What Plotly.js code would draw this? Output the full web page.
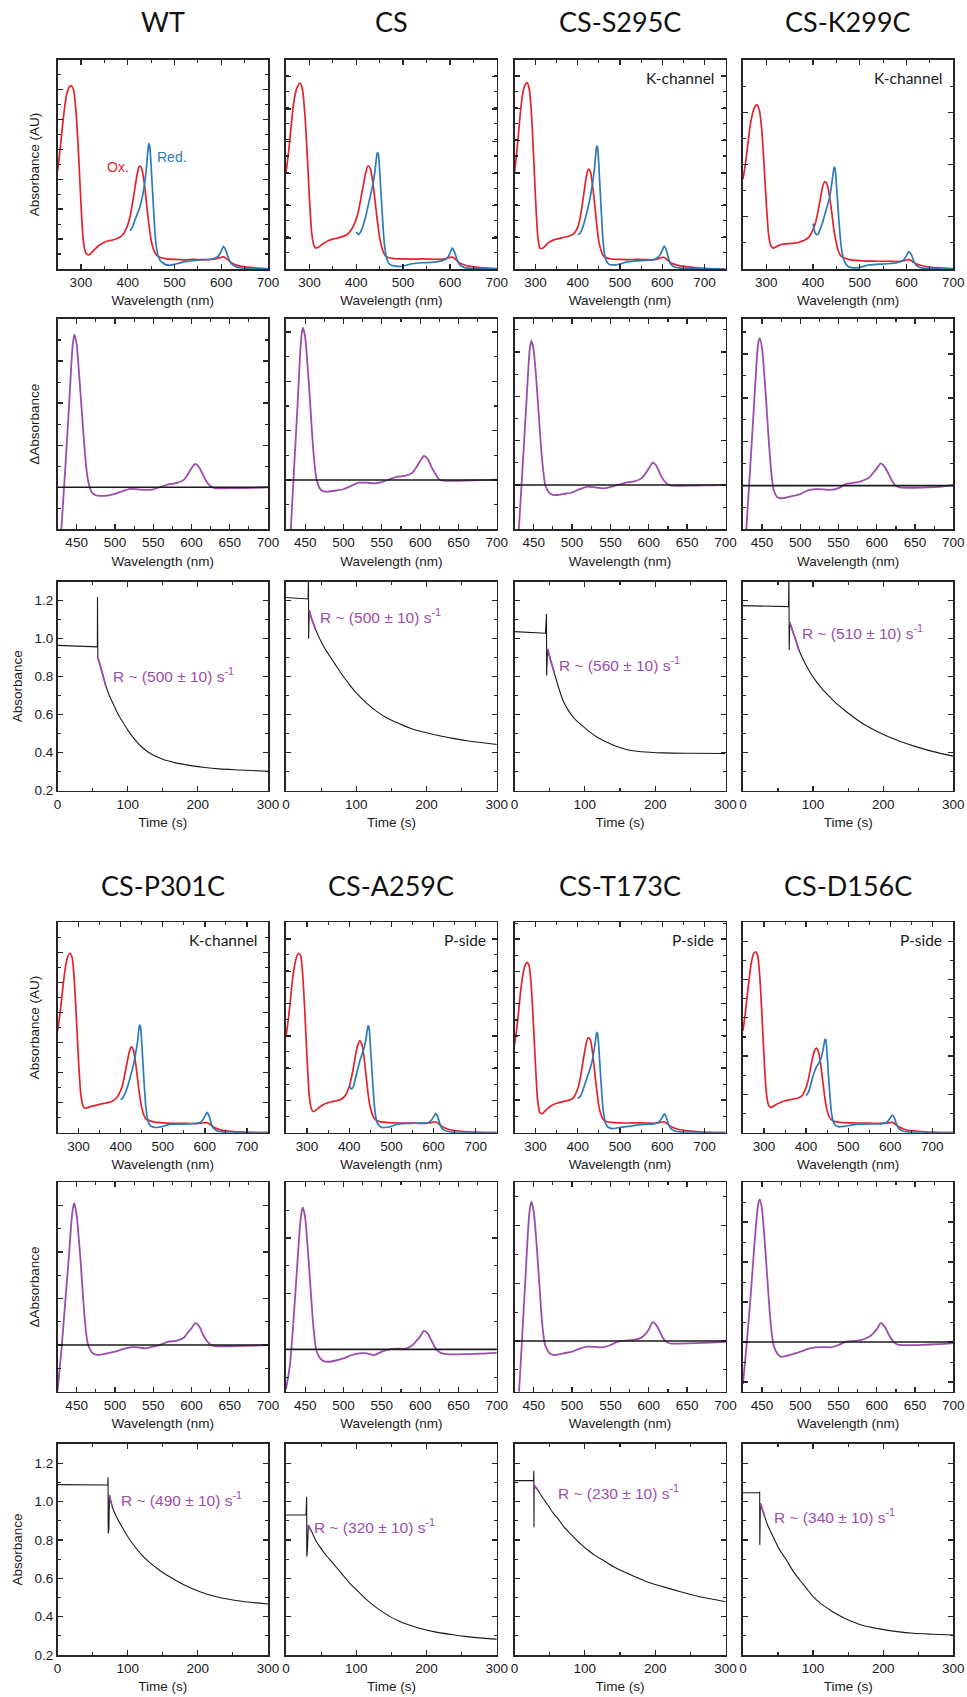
<!DOCTYPE html>
<html><head><meta charset="utf-8">
<script src="https://cdn.plot.ly/plotly-3.0.1.min.js"></script>
<style>body{margin:0;background:#fff}</style>
</head><body><div id="chart" style="width:967px;height:1697px"></div>
<script>
// ---------------- DATA ----------------
const sampleNames = ['WT','CS','CS-S295C','CS-K299C','CS-P301C','CS-A259C','CS-T173C','CS-D156C'];
const rates = [500,500,560,510,490,320,230,340];
const regions = ['','','K-channel','K-channel','K-channel','P-side','P-side','P-side'];

// Absorbance spectra (relative units, oxidised = red, reduced = blue)
const oxNm = [250,255,260,265,270,275,280,285,290,295,300,305,310,315,320,330,340,350,360,370,380,390,400,405,410,415,420,425,430,435,440,445,450,455,460,465,470,480,500,520,540,560,580,590,600,605,610,615,620,630,640,660,680,700,720,750];
const ox_WT = [0.467,0.56,0.67,0.77,0.84,0.87,0.877,0.85,0.74,0.55,0.32,0.14,0.08,0.068,0.072,0.095,0.115,0.128,0.135,0.14,0.148,0.165,0.21,0.25,0.31,0.38,0.45,0.492,0.48,0.42,0.32,0.22,0.14,0.095,0.072,0.06,0.055,0.05,0.046,0.044,0.046,0.045,0.046,0.05,0.056,0.058,0.052,0.042,0.032,0.02,0.014,0.008,0.004,0.001,0,0];
const ox_CS = [0.462,0.55,0.66,0.77,0.84,0.875,0.889,0.86,0.75,0.56,0.34,0.17,0.11,0.10,0.105,0.122,0.135,0.143,0.148,0.155,0.164,0.19,0.24,0.28,0.34,0.40,0.46,0.494,0.48,0.42,0.33,0.23,0.15,0.10,0.07,0.058,0.054,0.05,0.048,0.047,0.048,0.047,0.046,0.05,0.056,0.057,0.05,0.04,0.03,0.02,0.014,0.008,0.004,0.002,0,0];
const ox_S295C = [0.462,0.55,0.66,0.77,0.845,0.88,0.892,0.86,0.75,0.55,0.33,0.16,0.10,0.098,0.105,0.125,0.137,0.143,0.148,0.153,0.158,0.168,0.2,0.24,0.3,0.37,0.44,0.478,0.465,0.4,0.31,0.21,0.13,0.09,0.065,0.056,0.052,0.048,0.046,0.045,0.046,0.045,0.044,0.048,0.056,0.055,0.048,0.038,0.03,0.022,0.016,0.01,0.006,0.003,0.001,0];
const ox_K299C = [0.43,0.5,0.59,0.68,0.74,0.775,0.785,0.76,0.67,0.5,0.31,0.16,0.11,0.10,0.105,0.116,0.12,0.122,0.124,0.128,0.136,0.15,0.19,0.22,0.27,0.33,0.39,0.418,0.405,0.35,0.27,0.18,0.12,0.08,0.062,0.055,0.05,0.044,0.04,0.038,0.037,0.037,0.036,0.038,0.043,0.045,0.04,0.032,0.025,0.018,0.012,0.007,0.004,0.002,0,0];
const ox_P301C = [0.48,0.55,0.64,0.73,0.8,0.84,0.853,0.83,0.72,0.54,0.34,0.19,0.13,0.116,0.118,0.125,0.13,0.135,0.139,0.143,0.15,0.165,0.2,0.23,0.28,0.33,0.38,0.408,0.395,0.34,0.26,0.18,0.12,0.085,0.066,0.06,0.056,0.05,0.047,0.045,0.045,0.044,0.043,0.045,0.048,0.048,0.043,0.035,0.027,0.018,0.012,0.007,0.004,0.002,0.001,0];
const ox_A259C = [0.456,0.53,0.62,0.72,0.79,0.835,0.853,0.84,0.74,0.56,0.35,0.18,0.115,0.10,0.105,0.122,0.135,0.143,0.148,0.152,0.158,0.175,0.22,0.26,0.31,0.37,0.415,0.436,0.42,0.36,0.27,0.18,0.12,0.085,0.066,0.058,0.054,0.05,0.047,0.046,0.046,0.045,0.044,0.046,0.05,0.052,0.046,0.038,0.03,0.02,0.014,0.008,0.004,0.002,0.001,0];
const ox_T173C = [0.417,0.49,0.58,0.68,0.75,0.795,0.81,0.79,0.69,0.51,0.31,0.15,0.095,0.09,0.098,0.118,0.132,0.14,0.145,0.15,0.155,0.167,0.21,0.25,0.31,0.37,0.425,0.452,0.44,0.38,0.29,0.2,0.125,0.085,0.063,0.055,0.052,0.049,0.047,0.046,0.047,0.046,0.045,0.047,0.051,0.052,0.046,0.038,0.03,0.021,0.015,0.009,0.005,0.002,0.001,0];
const ox_D156C = [0.485,0.56,0.65,0.74,0.81,0.85,0.86,0.84,0.74,0.56,0.36,0.2,0.135,0.12,0.123,0.135,0.145,0.152,0.156,0.16,0.164,0.175,0.215,0.25,0.3,0.35,0.39,0.402,0.38,0.32,0.24,0.16,0.105,0.075,0.062,0.056,0.053,0.049,0.047,0.046,0.046,0.045,0.044,0.045,0.048,0.049,0.044,0.036,0.028,0.019,0.013,0.008,0.004,0.002,0.001,0];

const redNm = [400,405,410,415,420,425,430,435,440,443,445,447,450,455,460,465,470,475,480,490,500,510,520,540,560,580,590,595,600,605,610,615,620,630,640,660,700,750];
const red_WT = [null,0.183,0.2,0.23,0.26,0.29,0.33,0.39,0.48,0.56,0.6,0.59,0.5,0.3,0.13,0.065,0.04,0.03,0.022,0.018,0.022,0.028,0.034,0.04,0.044,0.048,0.055,0.065,0.085,0.108,0.088,0.055,0.03,0.012,0.006,0.003,0.001,0];
const red_CS = [0.177,0.165,0.18,0.21,0.25,0.3,0.35,0.4,0.47,0.53,0.557,0.55,0.47,0.28,0.12,0.05,0.025,0.018,0.015,0.013,0.014,0.02,0.025,0.03,0.032,0.038,0.045,0.055,0.075,0.1,0.08,0.045,0.022,0.008,0.004,0.002,0.001,0];
const red_S295C = [0.164,0.17,0.19,0.22,0.26,0.3,0.35,0.41,0.49,0.56,0.589,0.58,0.49,0.3,0.13,0.055,0.03,0.022,0.02,0.02,0.024,0.03,0.035,0.039,0.041,0.045,0.055,0.068,0.088,0.11,0.09,0.05,0.024,0.01,0.005,0.002,0.001,0];
const red_K299C = [0.217,0.17,0.165,0.19,0.22,0.26,0.3,0.34,0.41,0.46,0.487,0.48,0.4,0.24,0.11,0.05,0.025,0.012,0.008,0.005,0.008,0.014,0.02,0.023,0.025,0.03,0.038,0.048,0.065,0.083,0.07,0.04,0.02,0.006,0.003,0.001,0,0];
const red_P301C = [0.158,0.165,0.185,0.21,0.245,0.28,0.32,0.37,0.43,0.49,0.512,0.505,0.43,0.26,0.12,0.055,0.035,0.028,0.025,0.026,0.03,0.036,0.04,0.041,0.042,0.045,0.05,0.06,0.078,0.097,0.08,0.045,0.022,0.008,0.004,0.002,0.001,0];
const red_A259C = [0.227,0.207,0.22,0.26,0.3,0.34,0.37,0.4,0.45,0.49,0.509,0.5,0.42,0.26,0.12,0.055,0.035,0.027,0.024,0.026,0.03,0.038,0.042,0.044,0.046,0.046,0.05,0.06,0.075,0.092,0.075,0.042,0.02,0.008,0.004,0.002,0.001,0];
const red_T173C = [0.163,0.17,0.19,0.22,0.25,0.28,0.31,0.35,0.41,0.455,0.477,0.47,0.4,0.24,0.11,0.05,0.03,0.023,0.02,0.021,0.025,0.028,0.03,0.036,0.04,0.042,0.048,0.058,0.072,0.089,0.072,0.04,0.02,0.008,0.004,0.002,0.001,0];
const red_D156C = [0.176,0.19,0.22,0.26,0.29,0.315,0.33,0.35,0.39,0.425,0.444,0.44,0.37,0.22,0.1,0.05,0.035,0.03,0.028,0.03,0.033,0.037,0.04,0.041,0.042,0.043,0.048,0.056,0.07,0.084,0.07,0.04,0.02,0.008,0.004,0.002,0.001,0];

// Difference spectra (reduced - oxidised)
const dNm = [425,430,435,440,443,445,447,450,453,455,458,460,463,465,470,475,480,490,500,510,520,530,540,550,560,570,580,590,595,600,605,610,615,620,625,630,640,660,680,700];
const d_WT = [-0.5,-0.2,0.08,0.38,0.58,0.68,0.727,0.68,0.55,0.45,0.3,0.2,0.08,0.03,-0.025,-0.038,-0.041,-0.04,-0.032,-0.018,-0.008,-0.01,-0.013,-0.01,0.002,0.014,0.019,0.035,0.06,0.09,0.111,0.095,0.06,0.025,0.005,-0.004,-0.005,-0.004,-0.003,0];
const d_CS = [-0.6,-0.32,0.02,0.35,0.57,0.68,0.724,0.68,0.55,0.45,0.28,0.17,0.05,0.0,-0.045,-0.055,-0.055,-0.05,-0.044,-0.028,-0.013,-0.013,-0.016,-0.01,0.003,0.016,0.019,0.035,0.06,0.09,0.114,0.1,0.06,0.028,0.002,-0.003,-0.004,-0.003,-0.001,0.001];
const d_S295C = [-0.55,-0.25,0.05,0.36,0.55,0.65,0.686,0.64,0.52,0.42,0.26,0.16,0.05,0.0,-0.035,-0.047,-0.048,-0.042,-0.036,-0.02,-0.008,-0.012,-0.016,-0.01,0.0,0.011,0.016,0.03,0.05,0.078,0.106,0.09,0.05,0.02,0.002,-0.003,-0.004,-0.003,-0.002,0];
const d_K299C = [-0.45,-0.17,0.12,0.42,0.6,0.68,0.7,0.65,0.52,0.42,0.25,0.15,0.03,-0.02,-0.055,-0.06,-0.058,-0.049,-0.04,-0.022,-0.017,-0.018,-0.02,-0.012,0.008,0.014,0.022,0.038,0.06,0.082,0.106,0.09,0.058,0.022,-0.002,-0.008,-0.01,-0.009,-0.006,0.003];
const d_P301C = [-0.22,-0.03,0.2,0.43,0.58,0.65,0.677,0.62,0.5,0.41,0.25,0.15,0.04,0.0,-0.035,-0.046,-0.047,-0.04,-0.032,-0.02,-0.011,-0.011,-0.016,-0.008,0.002,0.016,0.02,0.035,0.058,0.08,0.104,0.09,0.05,0.02,0.001,-0.005,-0.006,-0.005,-0.003,-0.001];
const d_A259C = [-0.19,-0.08,0.15,0.42,0.58,0.65,0.678,0.63,0.5,0.4,0.24,0.14,0.03,-0.01,-0.045,-0.057,-0.059,-0.053,-0.043,-0.028,-0.019,-0.019,-0.027,-0.011,0.0,0.004,0.003,0.02,0.04,0.062,0.088,0.075,0.04,0.005,-0.012,-0.02,-0.024,-0.023,-0.02,-0.015];
const d_T173C = [-0.55,-0.3,0.02,0.35,0.55,0.63,0.666,0.62,0.5,0.4,0.24,0.13,0.02,-0.02,-0.055,-0.066,-0.066,-0.058,-0.051,-0.036,-0.027,-0.028,-0.03,-0.019,-0.003,0.002,0.005,0.015,0.03,0.055,0.09,0.075,0.04,0.006,-0.008,-0.012,-0.012,-0.01,-0.007,-0.004];
const d_D156C = [-0.2,0.0,0.22,0.47,0.6,0.66,0.681,0.63,0.5,0.4,0.24,0.14,0.03,-0.015,-0.055,-0.07,-0.068,-0.058,-0.046,-0.033,-0.025,-0.024,-0.025,-0.014,0.002,0.005,0.01,0.025,0.04,0.062,0.09,0.075,0.04,0.01,-0.008,-0.014,-0.015,-0.013,-0.01,-0.005];

// Kinetic traces (time in s, absorbance)
const kT_WT = [0,56.8,57,57.2,57.5,60,63,66,69,74,79,84,89,95,100,110,120,135,150,170,190,210,230,260,300];
const kA_WT = [0.965,0.957,1.22,0.93,0.90,0.87,0.83,0.79,0.75,0.70,0.66,0.62,0.585,0.55,0.52,0.47,0.43,0.39,0.365,0.345,0.332,0.322,0.315,0.309,0.302];
const kT_CS = [0,31.5,32,32.2,33,36,39,42,48,55,62,70,80,90,100,115,130,145,160,180,200,220,240,260,280,300];
const kA_CS = [1.217,1.209,1.35,1.0,1.15,1.11,1.08,1.05,1.0,0.95,0.91,0.865,0.81,0.76,0.715,0.66,0.615,0.58,0.555,0.525,0.505,0.488,0.474,0.462,0.452,0.443];
const kT_S295C = [0,44,45.5,45.7,47,50,53,57,62,69,77,85,93,105,117,130,140,152,164,180,211,250,300];
const kA_S295C = [1.037,1.029,1.13,0.807,0.946,0.905,0.865,0.815,0.752,0.675,0.62,0.58,0.553,0.515,0.483,0.458,0.44,0.425,0.413,0.405,0.399,0.397,0.396];
const kT_K299C = [0,65,65.5,65.9,66.7,70,75,80,90,100,112,124,136,148,170,195,220,243,270,300];
const kA_K299C = [1.174,1.169,1.35,0.94,1.086,1.05,0.995,0.938,0.86,0.798,0.74,0.693,0.65,0.614,0.555,0.505,0.465,0.436,0.407,0.382];
const kT_P301C = [0,71.6,72,72.3,73,73.3,74,76,78,84,90,100,108,120,132,145,155,180,203,225,250,275,300];
const kA_P301C = [1.088,1.086,1.126,0.834,1.11,0.86,1.034,1.0,0.973,0.921,0.88,0.818,0.776,0.722,0.68,0.643,0.618,0.566,0.53,0.505,0.487,0.475,0.466];
const kT_A259C = [0,28.5,29.4,29.6,30.2,30.5,31.8,34,36.5,42,48,57,67,79,91,103,115,135,162,185,210,235,257,280,300];
const kA_A259C = [0.93,0.93,1.025,0.713,1.0,0.75,0.878,0.86,0.843,0.8,0.765,0.72,0.678,0.625,0.574,0.53,0.487,0.43,0.374,0.345,0.322,0.307,0.296,0.288,0.283];
const kT_T173C = [0,27,27.5,27.7,28,33,40,46,55,62,70,80,93,105,117,130,141,165,188,212,236,265,300];
const kA_T173C = [1.109,1.109,1.161,0.866,1.086,1.06,1.02,0.99,0.94,0.91,0.869,0.83,0.782,0.745,0.713,0.685,0.66,0.618,0.582,0.555,0.53,0.502,0.478];
const kT_D156C = [0,23.6,23.8,24,24.8,28,31,36,43,52,62,71,81,90,100,112,124,136,148,170,195,220,243,270,300];
const kA_D156C = [1.046,1.046,1.051,0.773,0.99,0.955,0.92,0.87,0.817,0.75,0.695,0.64,0.591,0.55,0.504,0.465,0.435,0.408,0.386,0.355,0.336,0.322,0.313,0.308,0.304];

// Initial-rate fit segments
const fitT_WT = [57.5,60,63,66,69],        fitA_WT = [0.90,0.87,0.83,0.79,0.75];
const fitT_CS = [33,36,39,42],             fitA_CS = [1.15,1.11,1.08,1.05];
const fitT_S295C = [47,50,53,57],          fitA_S295C = [0.946,0.905,0.865,0.815];
const fitT_K299C = [66.7,70,75,80],        fitA_K299C = [1.086,1.05,0.995,0.938];
const fitT_P301C = [74,76,78],             fitA_P301C = [1.034,1.0,0.973];
const fitT_A259C = [31.8,34,36.5],         fitA_A259C = [0.878,0.86,0.843];
const fitT_T173C = [28,30,33],             fitA_T173C = [1.086,1.074,1.06];
const fitT_D156C = [24.8,28,31],           fitA_D156C = [0.99,0.955,0.92];

// ---------------- assembling (no data below) ----------------
const OX = [ox_WT,ox_CS,ox_S295C,ox_K299C,ox_P301C,ox_A259C,ox_T173C,ox_D156C];
const RD = [red_WT,red_CS,red_S295C,red_K299C,red_P301C,red_A259C,red_T173C,red_D156C];
const DD = [d_WT,d_CS,d_S295C,d_K299C,d_P301C,d_A259C,d_T173C,d_D156C];
const KT = [kT_WT,kT_CS,kT_S295C,kT_K299C,kT_P301C,kT_A259C,kT_T173C,kT_D156C];
const KA = [kA_WT,kA_CS,kA_S295C,kA_K299C,kA_P301C,kA_A259C,kA_T173C,kA_D156C];
const FT = [fitT_WT,fitT_CS,fitT_S295C,fitT_K299C,fitT_P301C,fitT_A259C,fitT_T173C,fitT_D156C];
const FA = [fitA_WT,fitA_CS,fitA_S295C,fitA_K299C,fitA_P301C,fitA_A259C,fitA_T173C,fitA_D156C];

// style / layout settings
const decayFrom = [4,4,4,4,6,6,4,4];   // index where the smooth decay part starts
const absXmax = [700,700,750,700,750,750,750,750];
const absYtick = [[0.1433,0],[0.1545,0.148],[0.1545,0.151],[0.25,0],[0.1426,0],[0.1537,0.152],[0.153,0.155],[0.182,0]];
const dZero = [0.2,0.2345,0.211,0.2076,0.223,0.202,0.242,0.237];
const dTick = [0.2,0.2345,0.2108,0.2087,0.222,0.266,0.2755,0.191];
const rateLabelAt = [[76,0.81],[46,1.12],[60.7,0.868],[82,1.034],[87.7,1.013],[36.5,0.872],[59,1.051],[41.4,0.924]];

const W=967, H=1697;
const colPx=[[57.5,268],[286,496.8],[514.5,725.5],[743,953.3]];
const rowPx=[[60,269],[319,529.3],[581.7,790.7],[922.3,1132.7],[1182.3,1391.7],[1444,1655]];
const RED='#e3232c', BLUE='#2c7bb9', PURPLE='#9b4dab';
const tickFont={family:'Liberation Sans, Arial, sans-serif', size:13.5, color:'#1a1a1a'};
const titleFont={family:'Liberation Sans, Arial, sans-serif', size:13.5, color:'#1a1a1a'};

const traces=[];
const layout={width:W,height:H,margin:{l:0,r:0,t:0,b:0},showlegend:false,
  paper_bgcolor:'#ffffff',plot_bgcolor:'#ffffff',annotations:[],shapes:[]};
let n=0;
function axis(extra, minorD){
  return Object.assign({showline:true,linecolor:'#262626',linewidth:1.6,mirror:'ticks',
    ticks:'inside',ticklen:5,tickwidth:1.3,tickcolor:'#262626',showgrid:false,zeroline:false,
    automargin:false,tickfont:tickFont,fixedrange:true,
    minor:{ticks:'inside',ticklen:3,tickwidth:1.1,tickcolor:'#262626',showgrid:false,dtick:minorD}}, extra);
}
function addAxes(col,row,xcfg,xminor,ycfg,yminor){
  n++;
  const xa = n===1?'xaxis':'xaxis'+n, ya = n===1?'yaxis':'yaxis'+n;
  const xr = n===1?'x':'x'+n, yr = n===1?'y':'y'+n;
  layout[xa]=axis(Object.assign({domain:[colPx[col][0]/W,colPx[col][1]/W],anchor:yr},xcfg),xminor);
  layout[ya]=axis(Object.assign({domain:[1-rowPx[row][1]/H,1-rowPx[row][0]/H],anchor:xr},ycfg),yminor);
  return [xr,yr];
}
function yTitle(col,text,standoff){
  return col===0 ? {title:{text:text,font:titleFont,standoff:standoff}} : {};
}

for(let s=0;s<8;s++){
  const half = s<4?0:1, col = s%4;
  // ----- absorbance spectra -----
  let [xr,yr] = addAxes(col, half*3,
    {range:[250,absXmax[s]],dtick:100,tick0:0,
     title:{text:'Wavelength (nm)',font:titleFont,standoff:7}},50,
    Object.assign({range:[0,1],dtick:absYtick[s][0],tick0:absYtick[s][1],showticklabels:false},
      yTitle(col,'Absorbance (AU)',13)),absYtick[s][0]/2);
  traces.push({type:'scatter',mode:'lines',x:oxNm,y:OX[s],xaxis:xr,yaxis:yr,
    line:{color:RED,width:1.7,shape:'spline',smoothing:0.6},connectgaps:false});
  traces.push({type:'scatter',mode:'lines',x:redNm,y:RD[s],xaxis:xr,yaxis:yr,
    line:{color:BLUE,width:1.7,shape:'spline',smoothing:0.6},connectgaps:false});
  if(s===0){
    layout.annotations.push({xref:xr,yref:yr,x:379,y:0.488,text:'Ox.',showarrow:false,
      font:{family:'Liberation Sans, Arial',size:14,color:RED}});
    layout.annotations.push({xref:xr,yref:yr,x:494,y:0.536,text:'Red.',showarrow:false,
      font:{family:'Liberation Sans, Arial',size:14,color:BLUE}});
  }
  if(regions[s]){
    layout.annotations.push({xref:xr+' domain',yref:yr+' domain',x:0.957,y:0.914,
      xanchor:'right',yanchor:'middle',text:regions[s],showarrow:false,
      font:{family:'Lato, Noto Sans, sans-serif',size:15.5,color:'#1a1a1a'}});
  }
  // ----- difference spectra -----
  [xr,yr] = addAxes(col, half*3+1,
    {range:[425,700],dtick:50,tick0:0,
     title:{text:'Wavelength (nm)',font:titleFont,standoff:7}},25,
    Object.assign({range:[-dZero[s],1-dZero[s]],dtick:dTick[s],tick0:0,showticklabels:false},
      yTitle(col,'\u0394Absorbance',13)),dTick[s]/2);
  traces.push({type:'scatter',mode:'lines',x:dNm,y:DD[s],xaxis:xr,yaxis:yr,
    line:{color:PURPLE,width:1.8,shape:'spline',smoothing:0.6}});
  layout.shapes.push({type:'line',xref:xr+' domain',yref:yr,x0:0,x1:1,y0:0,y1:0,
    line:{color:'#1a1a1a',width:1.6},layer:'above'});
  // ----- kinetics -----
  [xr,yr] = addAxes(col, half*3+2,
    {range:[0,300],dtick:100,tick0:0,
     title:{text:'Time (s)',font:titleFont,standoff:7}},50,
    Object.assign({range:[0.2,1.3],dtick:0.2,tick0:0,tickformat:'.1f',showticklabels:col===0},
      yTitle(col,'Absorbance',8)),0.1);
  const k = decayFrom[s];
  traces.push({type:'scatter',mode:'lines',x:KT[s].slice(0,k+1),y:KA[s].slice(0,k+1),xaxis:xr,yaxis:yr,
    line:{color:'#1a1a1a',width:1.1}});
  traces.push({type:'scatter',mode:'lines',x:KT[s].slice(k),y:KA[s].slice(k),xaxis:xr,yaxis:yr,
    line:{color:'#1a1a1a',width:1.1,shape:'spline',smoothing:0.8}});
  traces.push({type:'scatter',mode:'lines',x:FT[s],y:FA[s],xaxis:xr,yaxis:yr,
    line:{color:PURPLE,width:1.8,shape:'spline',smoothing:0.6}});
  layout.annotations.push({xref:xr,yref:yr,x:rateLabelAt[s][0],y:rateLabelAt[s][1],
    xanchor:'left',yanchor:'middle',showarrow:false,
    text:'R ~ ('+rates[s]+' \u00b1 10) s<sup>-1</sup>',
    font:{family:'Liberation Sans, Arial, sans-serif',size:15.5,color:PURPLE}});
  // ----- group title -----
  const cx = (colPx[col][0]+colPx[col][1])/2/W;
  const ty = half===0 ? 22 : 885;
  layout.annotations.push({xref:'paper',yref:'paper',x:cx,y:1-ty/H,xanchor:'center',yanchor:'middle',
    text:sampleNames[s],showarrow:false,font:{family:'Lato, Noto Sans, sans-serif',size:27,color:'#111'}});
}

Plotly.newPlot('chart',traces,layout,{staticPlot:true,displayModeBar:false});
</script></body></html>
